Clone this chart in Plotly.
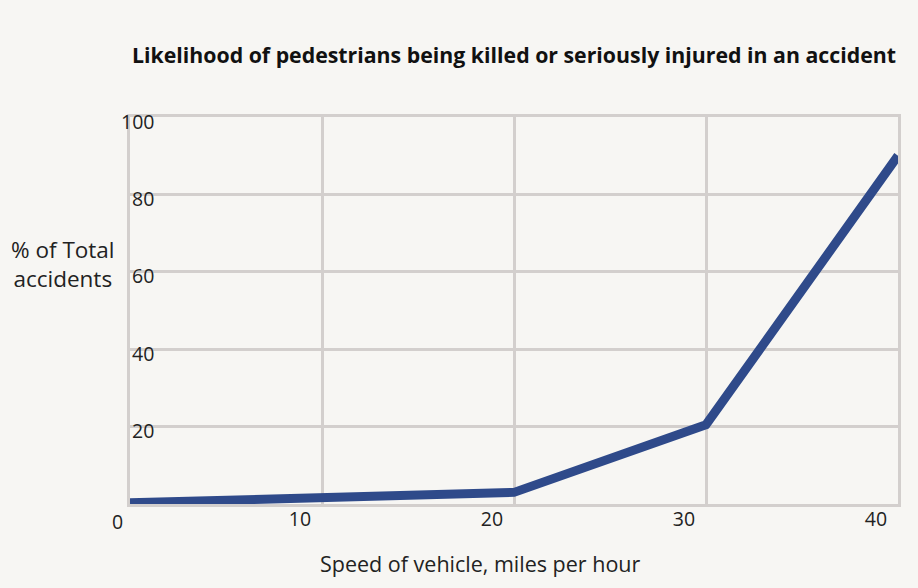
import plotly.graph_objects as go

speed_mph = [0, 10, 20, 30, 40]
pct_killed_or_injured = [0.3, 1.5, 3, 20.5, 90]
x_ticks = [0, 10, 20, 30, 40]
y_ticks = [20, 40, 60, 80, 100]

FONT = "'Open Sans', Lato, sans-serif"
GRID = "#d3cfcd"
BG = "#f7f6f3"
TXT = "#222"

fig = go.Figure()
fig.add_trace(go.Scatter(
    x=speed_mph, y=pct_killed_or_injured, mode="lines",
    line=dict(color="#2f4a8a", width=9),
    showlegend=False, hoverinfo="skip",
))

fig.update_layout(
    width=918, height=588,
    margin=dict(l=130, r=20, t=117, b=84),
    paper_bgcolor=BG, plot_bgcolor=BG,
    font=dict(family=FONT, size=18, color=TXT),
    title=dict(
        text="<b>Likelihood of pedestrians being killed or seriously injured in an accident</b>",
        x=0.5, xref="paper", xanchor="center", y=0.906, yref="container", yanchor="middle",
        font=dict(family=FONT, size=21.3, color="#111"),
    ),
    xaxis=dict(
        range=[0, 40], tickvals=x_ticks[1:], ticktext=[str(v) for v in x_ticks[1:]],
        showgrid=True, gridcolor=GRID, gridwidth=3,
        showline=True, linecolor=GRID, linewidth=3, mirror=True,
        zeroline=False, ticks="", ticklabelshift=-22, ticklabelstandoff=-4,
        tickfont=dict(family=FONT, size=19.5, color=TXT),
        fixedrange=True,
    ),
    yaxis=dict(
        range=[0, 100], tickvals=y_ticks, showticklabels=False,
        showgrid=True, gridcolor=GRID, gridwidth=3,
        showline=True, linecolor=GRID, linewidth=3, mirror=True,
        zeroline=False, ticks="",
        fixedrange=True,
    ),
)

for v in y_ticks:
    fig.add_annotation(
        text=str(v), xref="paper", yref="y", x=0, y=v,
        xanchor="right", yanchor="middle", xshift=26, yshift=-4,
        showarrow=False, font=dict(family=FONT, size=19.5, color=TXT),
    )

fig.add_annotation(
    text="0", xref="x", yref="paper", x=x_ticks[0], y=0, xanchor="center", yanchor="top",
    xshift=-13, yshift=-2, showarrow=False,
    font=dict(family=FONT, size=19.5, color=TXT),
)

fig.add_annotation(
    text="Speed of vehicle, miles per hour", xref="paper", yref="paper",
    x=0.456, y=0, xanchor="center", yanchor="middle", yshift=-59,
    showarrow=False, font=dict(family=FONT, size=21.5, color=TXT),
)

fig.add_annotation(
    text="% of Total<br>accidents", xref="paper", yref="paper",
    x=0, y=0.62, xanchor="center", yanchor="middle", xshift=-67,
    showarrow=False, align="center",
    font=dict(family=FONT, size=22.5, color=TXT),
)

fig.write_html(
    "out.html",
    config={"displayModeBar": False},
    post_script="document.body.style.margin='0';document.body.style.background='#f7f6f3';",
)
